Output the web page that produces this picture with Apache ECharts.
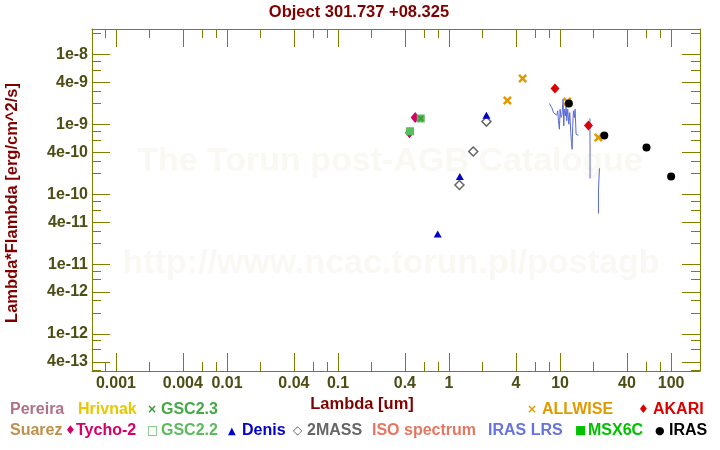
<!DOCTYPE html>
<html><head><meta charset="utf-8">
<script src="https://cdn.jsdelivr.net/npm/echarts@6/dist/echarts.min.js"></script>
<style>html,body{margin:0;padding:0;background:#fff}#c{width:720px;height:450px}</style>
</head><body><div id="c"></div>
<script>
// ---- data ----
const allwiseLambda = [3.35, 4.6, 11.6, 22.1];
const allwiseFlux   = [2.2e-9, 4.56e-9, 2.13e-9, 6.5e-10];
const akariLambda = [9.0, 18.0];
const akariFlux   = [3.27e-9, 9.66e-10];
const irasLambda = [12, 25, 60, 100];
const irasFlux   = [2.0e-9, 6.95e-10, 4.68e-10, 1.8e-10];
const denisLambda = [0.79, 1.25, 2.17];
const denisFlux   = [2.7e-11, 1.8e-10, 1.36e-9];
const twomassLambda = [1.24, 1.65, 2.17];
const twomassFlux   = [1.36e-10, 4.1e-10, 1.1e-9];
const tychoLambda = [0.44, 0.495];
const tychoFlux   = [7.6e-10, 1.26e-9];
const gsc22Lambda = [0.445];
const gsc22Flux   = [8.0e-10];
const gsc23Lambda = [0.556];
const gsc23Flux   = [1.22e-9];
const lrsLambda = [8.01, 8.24, 8.41, 8.59, 8.71, 9.02, 9.33, 9.53, 9.66, 9.86, 10.0, 10.21, 10.42, 10.64, 10.79, 10.94, 11.17, 11.32, 11.48, 11.72, 11.97, 12.22, 12.48, 12.65, 12.83, 13.0, 13.18, 13.46, 13.65, 13.93, 14.32, 14.63, null, 18.55, 18.6, 18.62, null, 22.15, 22.16, 22.6, 22.62];
const lrsFlux   = [2.0e-9, 2.06e-9, 1.75e-9, 1.85e-9, 1.48e-9, 1.40e-9, 1.36e-9, 1.57e-9, 1.13e-9, 8.55e-10, 1.65e-9, 1.26e-9, 1.40e-9, 2.30e-9, 9.54e-10, 1.65e-9, 1.33e-9, 1.85e-9, 1.13e-9, 1.65e-9, 1.01e-9, 1.48e-9, 7.66e-10, 5.51e-10, 4.42e-10, 9.54e-10, 1.57e-9, 1.26e-9, 1.65e-9, 7.25e-10, 7.01e-10, 7.01e-10, null, 1.22e-9, 6.0e-10, 1.68e-10, null, 5.3e-11, 1.15e-10, 1.15e-10, 2.36e-10];

const xTickValues = [0.001, 0.004, 0.01, 0.04, 0.1, 0.4, 1, 4, 10, 40, 100];
const xTickLabels = ['0.001','0.004','0.01','0.04','0.1','0.4','1','4','10','40','100'];
const xMinorTicks = [0.0008, 0.002, 0.006, 0.008, 0.02, 0.06, 0.08, 0.2, 0.6, 0.8, 2, 6, 8, 20, 60, 80];
const yTickValues = [1e-8, 4e-9, 1e-9, 4e-10, 1e-10, 4e-11, 1e-11, 4e-12, 1e-12, 4e-13];
const yTickLabels = ['1e-8','4e-9','1e-9','4e-10','1e-10','4e-11','1e-11','4e-12','1e-12','4e-13'];
const yMinorTicks = [2e-8, 8e-9, 6e-9, 3e-9, 2e-9, 8e-10, 6e-10, 3e-10, 2e-10, 8e-11, 6e-11, 3e-11, 2e-11, 8e-12, 6e-12, 3e-12, 2e-12, 8e-13, 6e-13, 3e-13];

const xMin = 6.08e-4, xMax = 182;
const yMin = 2.95e-13, yMax = 2.33e-8;

// ---- helpers ----
const L = Math.log10;
const pts = (xs, ys) => xs.map((x, i) => (x == null || ys[i] == null) ? ['-', '-'] : [L(x), L(ys[i])]);
const fmt = (vals, labels) => v => { for (let i = 0; i < vals.length; i++) if (Math.abs(L(vals[i]) - v) < 1e-6) return labels[i]; return ''; };

const AX = '#808000', LBL = '#4d4d14', FONT = '"Liberation Sans", Arial, sans-serif';
const lblStyle = { color: LBL, fontWeight: 'bold', fontSize: 16, fontFamily: FONT };

function xAx(pos, major, withLabel) {
  return {
    type: 'value', position: pos, min: L(xMin), max: L(xMax), gridIndex: 0,
    axisLine: { show: major, onZero: false, lineStyle: { color: AX, width: 1 } },
    axisTick: { show: true, inside: true, length: major ? 18 : 9, lineStyle: { color: AX },
      customValues: (major ? xTickValues : xMinorTicks).map(L) },
    axisLabel: withLabel ? Object.assign({ show: true, margin: 5, customValues: xTickValues.map(L), formatter: fmt(xTickValues, xTickLabels) }, lblStyle) : { show: false },
    splitLine: { show: false }
  };
}
function yAx(pos, major, withLabel) {
  return {
    type: 'value', position: pos, min: L(yMin), max: L(yMax), gridIndex: 0,
    axisLine: { show: major, onZero: false, lineStyle: { color: AX, width: 1 } },
    axisTick: { show: true, inside: true, length: major ? 18 : 9, lineStyle: { color: AX },
      customValues: (major ? yTickValues : yMinorTicks).map(L) },
    axisLabel: withLabel ? Object.assign({ show: true, margin: 4, customValues: yTickValues.map(L), formatter: fmt(yTickValues, yTickLabels) }, lblStyle) : { show: false },
    splitLine: { show: false }
  };
}

const crossPath = 'path://M2,0 L5,3 L8,0 L10,2 L7,5 L10,8 L8,10 L5,7 L2,10 L0,8 L3,5 L0,2Z';

function sc(name, xs, ys, symbol, size, color, extra) {
  return Object.assign({
    name, type: 'scatter', xAxisIndex: 0, yAxisIndex: 0, data: pts(xs, ys),
    symbol, symbolSize: size, itemStyle: { color, opacity: 1 }, silent: true, animation: false
  }, extra || {});
}

const series = [
  { name: 'IRAS LRS', type: 'line', xAxisIndex: 0, yAxisIndex: 0, data: pts(lrsLambda, lrsFlux),
    showSymbol: false, symbol: 'none', lineStyle: { color: '#5a68d8', width: 1, opacity: 1 }, connectNulls: false, animation: false, z: 1 },
  sc('Tycho-2', tychoLambda, tychoFlux, 'diamond', [9, 11], '#d4006c'),
  sc('GSC2.2', gsc22Lambda, gsc22Flux, 'rect', 8, '#5cbb5c'),
  sc('GSC2.3 sq', gsc23Lambda, gsc23Flux, 'rect', 8, '#5cbb5c'),
  sc('GSC2.3', gsc23Lambda, gsc23Flux, crossPath, 6, '#3a9a3a'),
  sc('2MASS', twomassLambda, twomassFlux, 'diamond', [9, 9], 'rgba(255,255,255,0)', { itemStyle: { color: 'rgba(255,255,255,0)', borderColor: '#666', borderWidth: 1.5, opacity: 1 } }),
  sc('Denis', denisLambda, denisFlux, 'triangle', [8, 7], '#0000c8'),
  sc('ALLWISE', allwiseLambda, allwiseFlux, crossPath, 9, '#e09a00'),
  sc('AKARI', akariLambda, akariFlux, 'diamond', [9, 10], '#dd0000'),
  sc('IRAS', irasLambda, irasFlux, 'circle', 8, '#000000'),
];

const T = (x, y, text, color, opts) => Object.assign({
  type: 'text', x, y, silent: true,
  style: Object.assign({ text, fill: color, font: 'bold 16px ' + FONT, textAlign: 'left', textVerticalAlign: 'middle' }, (opts && opts.style) || {})
}, opts && opts.rest || {});

const legendY1 = 410, legendY2 = 431;
const symFont = 'bold 12px "DejaVu Sans", sans-serif';
const graphic = [
  // watermarks
  { type: 'text', x: 390, y: 162, z: -10, silent: true, style: { text: 'The Torun post-AGB Catalogue', fill: '#faf8f3', font: 'bold 34px ' + FONT, textAlign: 'center', textVerticalAlign: 'middle' } },
  { type: 'text', x: 391, y: 264, z: -10, silent: true, style: { text: 'http://www.ncac.torun.pl/postagb', fill: '#faf8f3', font: 'bold 34px ' + FONT, textAlign: 'center', textVerticalAlign: 'middle' } },
  // titles
  { type: 'text', x: 359, y: 12, style: { text: 'Object 301.737 +08.325', fill: '#800000', font: 'bold 16.5px ' + FONT, textAlign: 'center', textVerticalAlign: 'middle' } },
  { type: 'text', x: 362, y: 404, style: { text: 'Lambda [um]', fill: '#800000', font: 'bold 16.5px ' + FONT, textAlign: 'center', textVerticalAlign: 'middle' } },
  { type: 'text', x: 12, y: 203, rotation: Math.PI / 2, style: { text: 'Lambda*Flambda [erg/cm^2/s]', fill: '#800000', font: 'bold 16.5px ' + FONT, textAlign: 'center', textVerticalAlign: 'middle' } },
  // legend row 1
  T(10, legendY1, 'Pereira', '#b07088'),
  T(78, legendY1, 'Hrivnak', '#e8c800'),
  T(147, legendY1, '×', '#3a9a3a', { style: { font: symFont } }),
  T(161, legendY1, 'GSC2.3', '#44aa44'),
  T(527, legendY1, '×', '#e09a00', { style: { font: symFont } }),
  T(542, legendY1, 'ALLWISE', '#e09a00'),
  T(638, legendY1, '♦', '#dd0000', { style: { font: symFont } }),
  T(653, legendY1, 'AKARI', '#dd0000'),
  // legend row 2
  T(10, legendY2, 'Suarez', '#c0904a'),
  T(65, legendY2, '♦', '#d4006c', { style: { font: symFont } }),
  T(76, legendY2, 'Tycho-2', '#d4006c'),
  T(147, legendY2, '□', '#5cbb5c', { style: { font: symFont } }),
  T(161, legendY2, 'GSC2.2', '#5cbb5c'),
  T(228, legendY2, '▲', '#0000c8', { style: { font: 'bold 10px "DejaVu Sans", sans-serif' } }),
  T(242, legendY2, 'Denis', '#0000c8'),
  T(293, legendY2, '◇', '#666666', { style: { font: symFont } }),
  T(307, legendY2, '2MASS', '#666666'),
  T(372, legendY2, 'ISO spectrum', '#e87561'),
  T(488, legendY2, 'IRAS LRS', '#6674dd'),
  T(575, legendY2, '■', '#00c000', { style: { font: symFont } }),
  T(588, legendY2, 'MSX6C', '#00c000'),
  T(655, legendY2, '●', '#000000', { style: { font: 'bold 11px "DejaVu Sans", sans-serif' } }),
  T(669, legendY2, 'IRAS', '#000000'),
];

const chart = echarts.init(document.getElementById('c'), null, { renderer: 'canvas' });
chart.setOption({
  backgroundColor: '#ffffff',
  animation: false,
  grid: { left: 92, right: 20, top: 29, bottom: 79, containLabel: false },
  xAxis: [xAx('bottom', true, true), xAx('bottom', false, false), xAx('top', true, false), xAx('top', false, false)],
  yAxis: [yAx('left', true, true), yAx('left', false, false), yAx('right', true, false), yAx('right', false, false)],
  series,
  graphic
});
</script>
</body></html>
